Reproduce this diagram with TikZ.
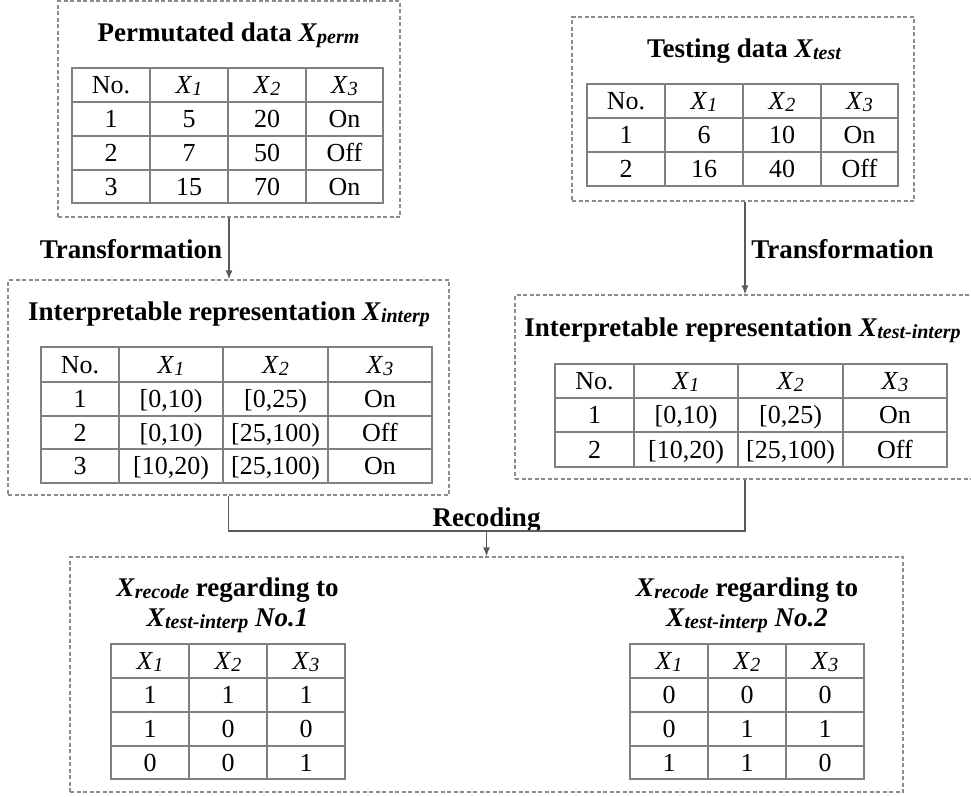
\documentclass[tikz,border=0pt]{standalone}
\usepackage{fontspec}
\setmainfont{Liberation Serif}
\usetikzlibrary{arrows.meta}
\definecolor{tl}{RGB}{128,128,128}
\definecolor{bx}{RGB}{140,140,140}
\definecolor{cn}{RGB}{90,90,90}
\newcommand\xv[1]{\textit{X}\raisebox{-2pt}{\fontsize{20}{20}\selectfont\itshape #1}}
\newcommand\tgrid[6]{%
  \draw[tline] (#1,#3) rectangle (#2,#4);
  \foreach \gx in {#5} \draw[tline] (\gx,#3) -- (\gx,#4);
  \foreach \gy in {#6} \draw[tline] (#1,\gy) -- (#2,\gy);}
\newcommand\trow[3]{%
  \foreach \cx/\ct [count=\ci] in {#3} \node[cell] (#1-\ci) at (\cx,#2) {\ct};}
\begin{document}
\begin{tikzpicture}[x=1pt,y=-1pt,
  tline/.style={draw=tl,line width=1.6pt},
  dbox/.style={draw=bx,line width=1.2pt,dash pattern=on 4pt off 2.5pt,inner sep=0pt},
  cell/.style={inner sep=0pt,text height=17.2pt,text depth=0pt,font=\fontsize{26}{30}\selectfont},
  ttl/.style={inner sep=0pt,text height=18.2pt,text depth=0pt,font=\fontsize{27}{32}\selectfont\bfseries},
  conn/.style={draw=cn,line width=1.3pt},
  arr/.style={conn,-{Latex[length=9pt,width=7pt]}}]
\useasboundingbox (0,0) rectangle (971,796);
% dashed boxes
\node[dbox,minimum width=342pt,minimum height=216pt] (perm) at (229,109) {};
\node[dbox,minimum width=342pt,minimum height=184pt] (test) at (743,109) {};
\node[dbox,minimum width=441pt,minimum height=215pt] (interp) at (228.5,387.5) {};
\node[dbox,minimum width=460pt,minimum height=184pt] (tinterp) at (745,387) {};
\node[dbox,minimum width=833pt,minimum height=235pt] (recode) at (486.5,674.5) {};
% titles
\node[ttl] (t1) at (228.5,32) {Permutated data \xv{perm}};
\node[ttl] (t2) at (744,48) {Testing data \xv{test}};
\node[ttl] (t3) at (229,311) {Interpretable representation \xv{interp}};
\node[ttl] (t4) at (742.5,327) {Interpretable representation \xv{test-interp}};
\node[ttl] (t5a) at (227.5,587) {\xv{recode} regarding to};
\node[ttl] (t5b) at (227.5,617) {\xv{test-interp} \textit{No.1}};
\node[ttl] (t6a) at (747,587) {\xv{recode} regarding to};
\node[ttl] (t6b) at (747,617) {\xv{test-interp} \textit{No.2}};
% table 1
\tgrid{72}{383}{68}{203}{150,228,306}{102,136,170}
\trow{pa0}{85}{111/No., 189/\xv{1}, 267/\xv{2}, 344.5/\xv{3}}
\trow{pa1}{119}{111/1, 189/5, 267/20, 344.5/On}
\trow{pa2}{153}{111/2, 189/7, 267/50, 344.5/Off}
\trow{pa3}{186.5}{111/3, 189/15, 267/70, 344.5/On}
% table 2
\tgrid{587}{898}{84}{186}{665,743,821}{118,152}
\trow{ta0}{101}{626/No., 704/\xv{1}, 782/\xv{2}, 859.5/\xv{3}}
\trow{ta1}{135}{626/1, 704/6, 782/10, 859.5/On}
\trow{ta2}{169}{626/2, 704/16, 782/40, 859.5/Off}
% table 3
\tgrid{41}{432}{347}{483}{119,223,328}{382,416,449}
\trow{ia0}{364.5}{80/No., 171/\xv{1}, 275.5/\xv{2}, 380/\xv{3}}
\trow{ia1}{399}{80/1, 171/{[0,10)}, 275.5/{[0,25)}, 380/On}
\trow{ia2}{432.5}{80/2, 171/{[0,10)}, 275.5/{[25,100)}, 380/Off}
\trow{ia3}{466}{80/3, 171/{[10,20)}, 275.5/{[25,100)}, 380/On}
% table 4
\tgrid{555}{947}{364}{467}{634,738,843}{398,432}
\trow{ib0}{381}{594.5/No., 686/\xv{1}, 790.5/\xv{2}, 895/\xv{3}}
\trow{ib1}{415}{594.5/1, 686/{[0,10)}, 790.5/{[0,25)}, 895/On}
\trow{ib2}{449.5}{594.5/2, 686/{[10,20)}, 790.5/{[25,100)}, 895/Off}
% table 5
\tgrid{111}{345}{644}{779}{189,267}{678,712,746}
\trow{ra0}{661}{150/\xv{1}, 228/\xv{2}, 306/\xv{3}}
\trow{ra1}{695}{150/1, 228/1, 306/1}
\trow{ra2}{729}{150/1, 228/0, 306/0}
\trow{ra3}{762.5}{150/0, 228/0, 306/1}
% table 6
\tgrid{630}{864}{644}{779}{708,786}{678,712,746}
\trow{rb0}{661}{669/\xv{1}, 747/\xv{2}, 825/\xv{3}}
\trow{rb1}{695}{669/0, 747/0, 825/0}
\trow{rb2}{729}{669/0, 747/1, 825/1}
\trow{rb3}{762.5}{669/1, 747/1, 825/0}
% connector labels
\node[ttl] (lt1) at (131,249) {Transformation};
\node[ttl] (lt2) at (842.5,249) {Transformation};
\node[ttl] (lrec) at (486.5,517) {Recoding};
% connectors
\draw[arr] (perm.south) -- (perm.south |- interp.north);
\draw[arr] (test.south -| tinterp.north) -- (tinterp.north);
\coordinate (mj) at (486.5,531);
\draw[conn] (interp.south) |- (tinterp.south |- mj) -- (tinterp.south);
\draw[arr] (mj) -- (recode.north);
\end{tikzpicture}
\end{document}
